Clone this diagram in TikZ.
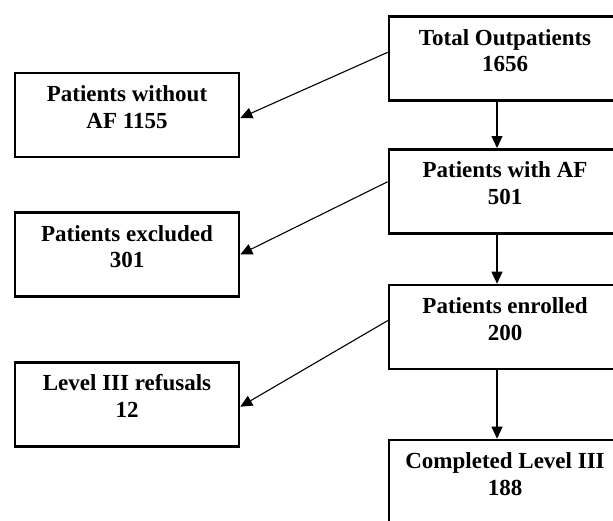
\documentclass[tikz,border=0pt]{standalone}
\usepackage{fontspec}
\setmainfont{Liberation Serif}
\usetikzlibrary{arrows.meta}
\newcommand{\stagetext}[2]{\raisebox{2.7pt}[\height][\depth]{\begin{tabular}{@{}c@{}}#1\\#2\end{tabular}}}
\tikzset{
  stagebox/.style={draw,rectangle,line width=1.3pt,minimum height=42pt,inner sep=0pt,
    font=\fontsize{11.5}{13.35}\selectfont\bfseries},
  mainbox/.style={stagebox,minimum width=116pt},
  sidebox/.style={stagebox,minimum width=112pt},
  flow/.style={line width=0.55pt,-{Triangle[length=6pt,width=5.5pt]}}
}
\begin{document}
\begin{tikzpicture}[x=0.5pt,y=-0.5pt]
  \clip (0,0) rectangle (613,520);
  \fill[white] (0,0) rectangle (613,520);
  % main column
  \node[mainbox] (tot) at (505,58.7) {\stagetext{Total Outpatients}{1656}};
  \node[mainbox] (af) at (505,191.3) {\stagetext{Patients with AF}{501}};
  \node[mainbox] (enr) at (505,327) {\stagetext{Patients enrolled}{200}};
  \node[mainbox] (cmp) at (505,482) {\stagetext{Completed Level III}{188}};
  % side column
  \node[sidebox] (noaf) at (127,114.8) {\stagetext{Patients without}{AF 1155}};
  \node[sidebox] (exc) at (127,254.5) {\stagetext{Patients excluded}{301}};
  \node[sidebox] (ref) at (127,404.3) {\stagetext{Level III refusals}{12}};
  % connectors
  \draw[flow] ([xshift=-4pt]tot.south) -- ([xshift=-4pt]af.north);
  \draw[flow] ([xshift=-4pt]af.south) -- ([xshift=-4pt]enr.north);
  \draw[flow] ([xshift=-4pt]enr.south) -- ([xshift=-4pt]cmp.north);
  \draw[flow] ([yshift=3.2pt]tot.west) -- ([yshift=-1.6pt]noaf.east);
  \draw[flow] ([yshift=4.8pt]af.west) -- (exc.east);
  \draw[flow] ([yshift=3.2pt]enr.west) -- ([yshift=-1.2pt]ref.east);
\end{tikzpicture}
\end{document}
